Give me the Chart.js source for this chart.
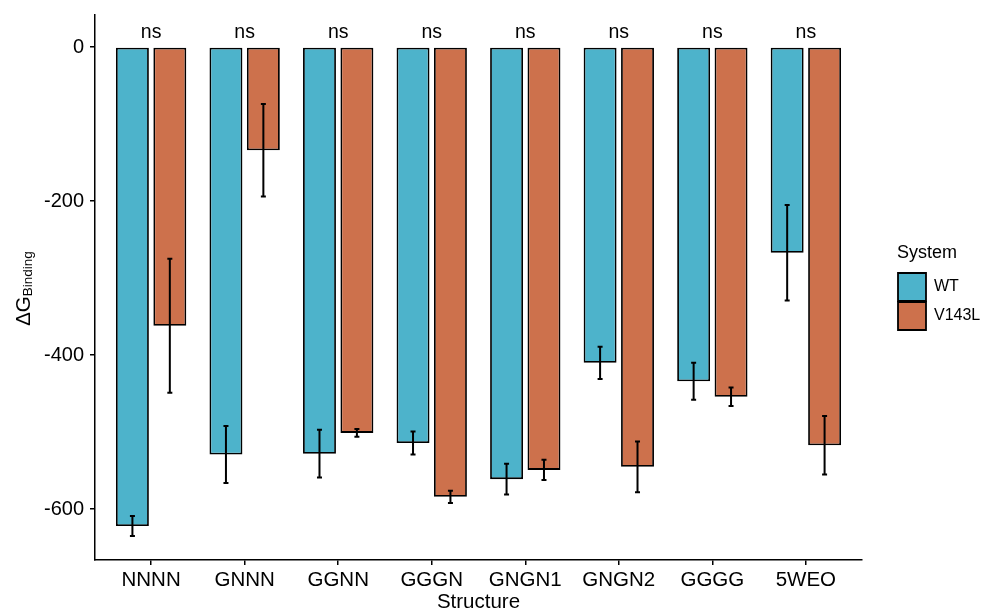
<!DOCTYPE html>
<html><head><meta charset="utf-8">
<script src="https://cdn.jsdelivr.net/npm/chart.js@4"></script>
<style>html,body{margin:0;padding:0;background:#fff}#wrap{width:985px;height:613px}</style>
</head><body><div id="wrap"><canvas id="c" width="985" height="613"></canvas></div>
<script>
const categories = ['NNNN','GNNN','GGNN','GGGN','GNGN1','GNGN2','GGGG','5WEO'];
const seriesNames = ['WT','V143L'];
const wtValues = [-622,-529,-528,-514,-561,-410,-434,-267];
const wtErrors = [13,37,31,15,20,21,24,62];
const v143lValues = [-362,-134,-501,-584,-549,-545,-454,-517];
const v143lErrors = [87,60,5,8,13,33,12,38];
const significance = ['ns','ns','ns','ns','ns','ns','ns','ns'];
const yTicks = [-600,-400,-200,0];

const FONT = '"Liberation Sans", Arial, Helvetica, sans-serif';
const valueSets = [wtValues, v143lValues];
const errorSets = [wtErrors, v143lErrors];

const errorBars = {
  id: 'errorBars',
  afterDatasetsDraw(chart) {
    const ctx = chart.ctx, ys = chart.scales.y;
    ctx.save();
    ctx.strokeStyle = '#000';
    ctx.lineWidth = 2;
    valueSets.forEach((vals, d) => {
      const meta = chart.getDatasetMeta(d);
      meta.data.forEach((bar, i) => {
        const x = bar.x;
        const yHi = ys.getPixelForValue(vals[i] + errorSets[d][i]);
        const yLo = ys.getPixelForValue(vals[i] - errorSets[d][i]);
        ctx.beginPath();
        ctx.moveTo(x, yHi); ctx.lineTo(x, yLo);
        ctx.moveTo(x - 2.5, yHi); ctx.lineTo(x + 2.5, yHi);
        ctx.moveTo(x - 2.5, yLo); ctx.lineTo(x + 2.5, yLo);
        ctx.stroke();
      });
    });
    ctx.restore();
  }
};

const annotations = {
  id: 'annotations',
  afterDraw(chart) {
    const ctx = chart.ctx, xs = chart.scales.x, ys = chart.scales.y;
    ctx.save();
    ctx.fillStyle = '#000';
    ctx.font = '19.5px ' + FONT;
    ctx.textAlign = 'center';
    ctx.textBaseline = 'middle';
    significance.forEach((s, i) => {
      ctx.fillText(s, xs.getPixelForValue(i), ys.getPixelForValue(0) - 14);
    });
    // y axis title: ΔG with subscript "Binding"
    const main = 'ΔG', sub = 'Binding';
    ctx.font = '20.5px ' + FONT;
    const w1 = ctx.measureText(main).width;
    ctx.font = '13.5px ' + FONT;
    const w2 = ctx.measureText(sub).width;
    const total = w1 + w2;
    ctx.translate(29.5, 288.5);
    ctx.rotate(-Math.PI / 2);
    ctx.textAlign = 'left';
    ctx.textBaseline = 'alphabetic';
    ctx.font = '20.5px ' + FONT;
    ctx.fillText(main, -total / 2, 0);
    ctx.font = '13.5px ' + FONT;
    ctx.fillText(sub, -total / 2 + w1, 2.5);
    ctx.restore();
  }
};

const axisCommon = {
  grid: { display: true, offset: false, drawOnChartArea: false, drawTicks: true, tickLength: 5, color: '#000', lineWidth: 1.5 },
  border: { display: true, color: '#000', width: 1.5 },
};

new Chart(document.getElementById('c'), {
  type: 'bar',
  data: {
    datasets: [
      { label: seriesNames[0], data: wtValues.map((v, i) => ({ x: i, y: v })),
        backgroundColor: '#4DB3CB', borderColor: '#000', borderWidth: 1.8, borderSkipped: false },
      { label: seriesNames[1], data: v143lValues.map((v, i) => ({ x: i, y: v })),
        backgroundColor: '#CD714C', borderColor: '#000', borderWidth: 1.8, borderSkipped: false }
    ]
  },
  options: {
    responsive: false,
    animation: false,
    devicePixelRatio: 1,
    categoryPercentage: 0.8,
    barPercentage: 0.88,
    layout: { padding: { top: 15, left: 0, right: 0, bottom: 0 } },
    plugins: {
      tooltip: { enabled: false },
      legend: {
        position: 'right',
        fullSize: false,
        align: 'center',
        maxWidth: 88,
        labels: { boxWidth: 28, boxHeight: 28, padding: 1, color: '#000', font: { family: FONT, size: 16 } },
        title: { display: true, text: 'System', color: '#000', position: 'start',
                 font: { family: FONT, size: 18 }, padding: { top: 0, bottom: 6.4 } }
      }
    },
    scales: {
      x: {
        type: 'linear', min: -0.6, max: 7.6, offset: false,
        afterBuildTicks: s => { s.ticks = categories.map((_, i) => ({ value: i })); },
        afterFit: s => { s.height = 53; },
        ticks: { autoSkip: false, maxRotation: 0, padding: 3, color: '#000',
                 font: { family: FONT, size: 20.5 }, callback: v => categories[v] },
        title: { display: true, text: 'Structure', color: '#000', padding: 0,
                 font: { family: FONT, size: 20.5, lineHeight: 1 } },
        ...axisCommon
      },
      y: {
        type: 'linear', min: -666, max: 41.6,
        afterBuildTicks: s => { s.ticks = yTicks.map(v => ({ value: v })); },
        afterFit: s => { s.width = 95; },
        ticks: { padding: 6, color: '#000', font: { family: FONT, size: 20, lineHeight: 0.8 },
                 callback: v => String(v) },
        ...axisCommon
      },
      gap: {
        type: 'linear', axis: 'y', position: 'right', display: true,
        grid: { display: false }, border: { display: false }, ticks: { display: false },
        afterFit: s => { s.width = 35; }
      }
    }
  },
  plugins: [errorBars, annotations]
});
</script>
</body></html>
